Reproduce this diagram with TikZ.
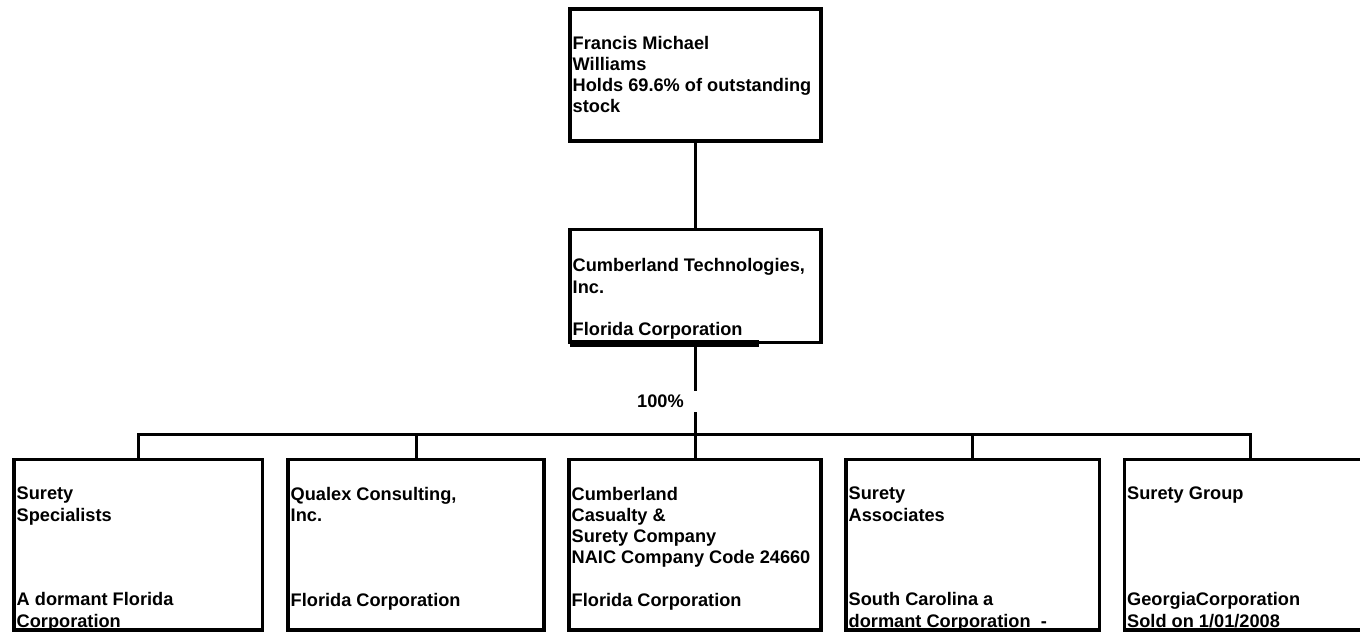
\documentclass[tikz,border=0pt]{standalone}
\usepackage{fontspec}
\setmainfont{Liberation Sans}
\tikzset{
  unit/.style={draw, line width=3.5pt, outer sep=0pt, inner sep=0pt},
  conn/.style={line width=3pt},
  info/.style={anchor=north west, align=left, inner sep=0pt, font=\bfseries\fontsize{18.2}{21.2}\selectfont},
}
\begin{document}
\begin{tikzpicture}[x=1pt, y=1pt]
\useasboundingbox (0,0) rectangle (1360,634);
\node[unit, minimum width=251, minimum height=132] (owner) at (695.5,559) {};
\node[unit, minimum width=251, minimum height=113] (tech) at (695.5,348) {};
\draw[line width=7pt] ([yshift=-1]tech.south west) -- ([xshift=189,yshift=-1]tech.south west);
\foreach \n/\x/\w in {specialists/138.25/248.5, qualex/416/256, casualty/695/252, associates/972.75/253.5, group/1250/251}
  \node[unit, minimum width=\w, minimum height=170.5] (\n) at (\x,89.25) {};
\node[info] (owner-txt) at ([shift={(2.5,-27)}]owner.north west) {Francis Michael\\Williams\\Holds 69.6\% of outstanding\\stock};
\node[info] (tech-txt) at ([shift={(2.5,-29)}]tech.north west) {Cumberland Technologies,\\Inc.\\ \\Florida Corporation};
\node[info] (specialists-txt) at ([shift={(2.5,-27.5)}]specialists.north west) {Surety\\Specialists\\ \\ \\ \\A dormant Florida\\Corporation};
\node[info] (qualex-txt) at ([shift={(2.5,-27.5)}]qualex.north west) {Qualex Consulting,\\Inc.\\ \\ \\ \\Florida Corporation};
\node[info] (casualty-txt) at ([shift={(2.5,-27.5)}]casualty.north west) {Cumberland\\Casualty \&\\Surety Company\\NAIC Company Code 24660\\ \\Florida Corporation};
\node[info] (associates-txt) at ([shift={(2.5,-27.5)}]associates.north west) {Surety\\Associates\\ \\ \\ \\South Carolina a\\dormant Corporation\ \ -};
\node[info] (group-txt) at ([shift={(2.5,-27.5)}]group.north west) {Surety Group\\ \\ \\ \\ \\GeorgiaCorporation\\Sold on 1/01/2008};
\node[info, anchor=base west, text height=16, text depth=3, inner sep=1pt] (share) at (636,226) {100\%};
\coordinate (bus) at (695.5,199.5);
\draw[conn] (owner.south) -- (tech.north);
\draw[conn] (tech.south) -- (tech.south |- share.north);
\draw[conn] (tech.south |- share.south) -- (bus);
\draw[conn] (specialists.north) |- (bus) -| (group.north);
\foreach \n in {qualex, casualty, associates}
  \draw[conn] (\n.north) -- (\n.north |- bus);
\end{tikzpicture}
\end{document}
